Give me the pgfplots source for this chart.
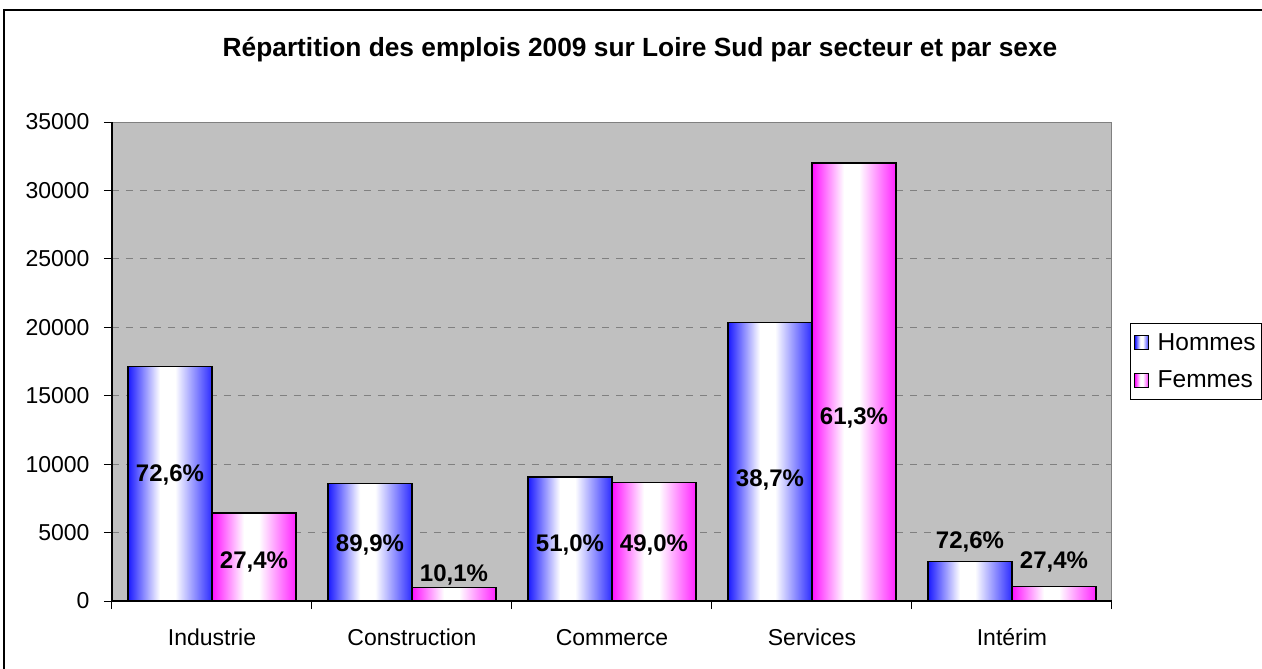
\documentclass[border=0pt]{standalone}
\usepackage{fontspec}
\setmainfont{Liberation Sans}
\usepackage{pgfplots}
\pgfplotsset{compat=1.18}
\definecolor{plotbg}{HTML}{C0C0C0}
\definecolor{gridgray}{HTML}{808080}
\definecolor{hblue}{HTML}{1A1AFF}
\definecolor{hmag}{HTML}{FF10FF}
\pgfdeclarehorizontalshading{shblue}{100bp}{color(0bp)=(hblue); color(25bp)=(hblue); color(44bp)=(white); color(53bp)=(white); color(75bp)=(hblue!92!white); color(100bp)=(hblue!92!white)}
\pgfdeclarehorizontalshading{shmag}{100bp}{color(0bp)=(hmag); color(25bp)=(hmag); color(44bp)=(white); color(53bp)=(white); color(75bp)=(hmag!92!white); color(100bp)=(hmag!92!white)}
\pgfplotsset{
  hbar/.style={ybar, bar width=84pt, bar shift=-42pt, draw=black, line width=1.4pt, shade, shading=shblue,
    legend image code/.code={\draw[shade, shading=shblue, draw=black, line width=1pt] (0pt,-7pt) rectangle (14pt,7pt); \path (20pt,0pt);}},
  fbar/.style={ybar, bar width=84pt, bar shift=42pt, draw=black, line width=1.4pt, shade, shading=shmag,
    legend image code/.code={\draw[shade, shading=shmag, draw=black, line width=1pt] (0pt,-7pt) rectangle (14pt,7pt); \path (20pt,0pt);}},
}
\begin{document}
\begin{tikzpicture}[x=1pt,y=1pt]
\begin{axis}[
  width=1000pt, height=479pt, scale only axis,
  xmin=-0.5, xmax=4.5, ymin=0, ymax=35000,
  axis background/.style={fill=plotbg, draw=gridgray, line width=1pt},
  axis lines*=left,
  x axis line style={-, black, line width=1.2pt},
  y axis line style={-, black, line width=1.2pt},
  tick align=outside, major tick length=8pt,
  tick style={black, line width=1pt},
  xtick={-0.5,0.5,1.5,2.5,3.5,4.5},
  x tick label as interval,
  xticklabels={Industrie,Construction,Commerce,Services,Intérim},
  ytick={0,5000,10000,15000,20000,25000,30000,35000},
  yticklabels={0,5000,10000,15000,20000,25000,30000,35000},
  scaled y ticks=false,
  ticklabel style={font=\fontsize{23}{27}\selectfont},
  xticklabel style={yshift=-16pt, text height=17pt, text depth=5pt},
  yticklabel style={xshift=-11pt},
  ymajorgrids,
  grid style={gridgray, dash pattern=on 7pt off 7pt, line width=1pt},
  legend style={at={(1.018,0.5804)}, anchor=north west, draw=black, line width=1pt,
    font=\fontsize{24.5}{28}\selectfont, inner xsep=4pt, inner ysep=8pt, row sep=15pt},
  legend cell align=left,
  clip=false,
]
\addplot[hbar] coordinates {(0,17150)};
\addlegendentry{Hommes}
\addplot[fbar] coordinates {(0,6420)};
\addlegendentry{Femmes}
\addplot[hbar, forget plot] coordinates {(1,8600)};
\addplot[fbar, forget plot] coordinates {(1,975)};
\addplot[hbar, forget plot] coordinates {(2,9060)};
\addplot[fbar, forget plot] coordinates {(2,8680)};
\addplot[hbar, forget plot] coordinates {(3,20330)};
\addplot[fbar, forget plot] coordinates {(3,32000)};
\addplot[hbar, forget plot] coordinates {(4,2870)};
\addplot[fbar, forget plot] coordinates {(4,1050)};
\addplot[forget plot, only marks, mark=*, mark size=0pt, mark options={draw=none, fill=none},
  nodes near coords, point meta=explicit symbolic,
  nodes near coords style={anchor=center, font=\bfseries\fontsize{24}{27}\selectfont, text=black}]
  coordinates {
  (-0.21,9200) [72,6\%]
  (0.21,2850) [27,4\%]
  (0.79,4090) [89,9\%]
  (1.21,1900) [10,1\%]
  (1.79,4090) [51,0\%]
  (2.21,4090) [49,0\%]
  (2.79,8840) [38,7\%]
  (3.21,13370) [61,3\%]
  (3.79,4310) [72,6\%]
  (4.21,2850) [27,4\%]
  };
\coordinate (SW) at (rel axis cs:-0.112,-0.14196);
\end{axis}
\begin{scope}[shift={(SW)}]
\draw[line width=1.5pt] (4,-2) -- (4,659) -- (1264,659);
\node[font=\bfseries\fontsize{26.3}{30}\selectfont] at (640,619) {Répartition des emplois 2009 sur Loire Sud par secteur et par sexe};
\pgfresetboundingbox
\useasboundingbox (0,0) rectangle (1262,669);
\end{scope}
\end{tikzpicture}
\end{document}
